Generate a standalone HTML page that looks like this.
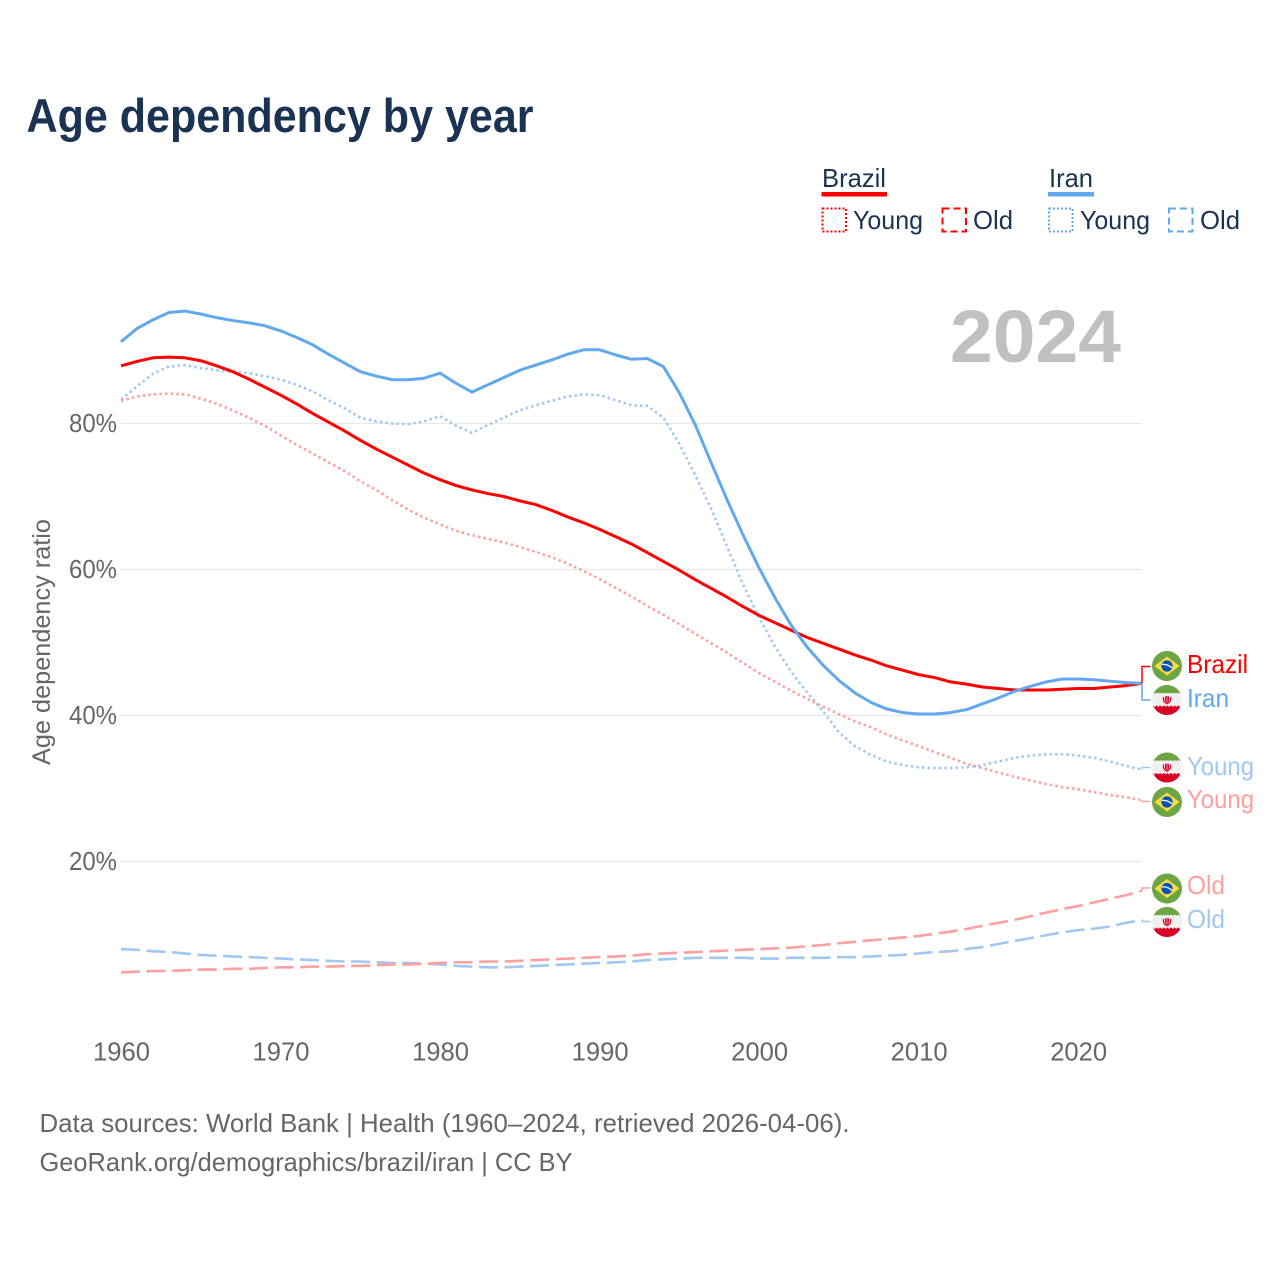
<!DOCTYPE html>
<html lang="en">
<head>
<meta charset="utf-8">
<title>Age dependency by year</title>
<style>
html,body{margin:0;padding:0;background:#fff;width:1280px;height:1280px;overflow:hidden}
svg{display:block}
text{font-family:"Liberation Sans",sans-serif}
</style>
</head>
<body>
<svg id="chart" xmlns="http://www.w3.org/2000/svg" width="1280" height="1280" viewBox="0 0 1280 1280">
<defs>
<clipPath id="flag-clip"><circle cx="0" cy="0" r="15"/></clipPath>
<symbol id="flag-br" overflow="visible">
<circle r="15" fill="#6da544"/>
<polygon points="0,-9.5 12.5,0 0,9.5 -12.5,0" fill="#ffda44"/>
<circle r="5.6" fill="#0052b4"/>
<path d="M-5.2,-1.6 C-1.5,-2 2.5,-0.5 5,2" fill="none" stroke="#f0f0f0" stroke-width="1.4"/>
</symbol>
<symbol id="flag-ir" overflow="visible">
<g clip-path="url(#flag-clip)">
<rect x="-15" y="-15" width="30" height="30" fill="#f0f0f0"/>
<rect x="-15" y="-15" width="30" height="8.4" fill="#6da544"/>
<rect x="-15" y="6.7" width="30" height="8.3" fill="#d80027"/>
<line x1="-15" x2="15" y1="-6.4" y2="-6.4" stroke="#f0f0f0" stroke-width="1.4" stroke-dasharray="2 1.6"/>
<line x1="-15" x2="15" y1="6.4" y2="6.4" stroke="#d80027" stroke-width="1.4" stroke-dasharray="2 1.6"/>
<path d="M-3.6,-3 C-4.2,1.5 -2,3 0,3.2 C2,3 4.2,1.5 3.6,-3 M-1.5,-3.6 V1.5 M1.5,-3.6 V1.5 M0,-4 V4.2" fill="none" stroke="#d80027" stroke-width="1.2"/>
</g>
</symbol>
</defs>

<text x="26.5" y="132" font-size="47" font-weight="700" fill="#1a3353" textLength="507" lengthAdjust="spacingAndGlyphs">Age dependency by year</text>

<g font-size="26" fill="#1a3353">
<text x="822" y="187" textLength="64" lengthAdjust="spacingAndGlyphs">Brazil</text>
<rect x="821.5" y="192" width="65.5" height="4.5" fill="#ff0000"/>
<rect x="822.5" y="208.5" width="23.5" height="23" fill="none" stroke="#ff0000" stroke-width="2" stroke-dasharray="2 2"/>
<text x="853" y="229" textLength="70" lengthAdjust="spacingAndGlyphs">Young</text>
<rect x="942.5" y="208.5" width="23.5" height="23" fill="none" stroke="#ff0000" stroke-width="2" stroke-dasharray="7 4"/>
<text x="973" y="229" textLength="40" lengthAdjust="spacingAndGlyphs">Old</text>
<text x="1049" y="187" textLength="44" lengthAdjust="spacingAndGlyphs">Iran</text>
<rect x="1048" y="192" width="46" height="4.5" fill="#62a8ee"/>
<rect x="1049" y="208.5" width="23.5" height="23" fill="none" stroke="#62a8ee" stroke-width="2" stroke-dasharray="2 2"/>
<text x="1080" y="229" textLength="70" lengthAdjust="spacingAndGlyphs">Young</text>
<rect x="1169" y="208.5" width="23.5" height="23" fill="none" stroke="#62a8ee" stroke-width="2" stroke-dasharray="7 4"/>
<text x="1200" y="229" textLength="40" lengthAdjust="spacingAndGlyphs">Old</text>
</g>

<text x="950" y="362" font-size="74" font-weight="700" fill="#c0c0c0" textLength="171" lengthAdjust="spacingAndGlyphs">2024</text>

<text transform="translate(50,765) rotate(-90)" font-size="25" fill="#666666" textLength="246" lengthAdjust="spacingAndGlyphs">Age dependency ratio</text>

<g id="grid-layer"></g>
<g id="tick-layer"></g>
<g id="series-layer"></g>
<g id="connector-layer"></g>

<g font-size="26">
<use href="#flag-br" x="1167" y="666"/>
<text x="1187" y="673" fill="#ff0000" textLength="61" lengthAdjust="spacingAndGlyphs">Brazil</text>
<use href="#flag-ir" x="1167" y="700"/>
<text x="1187" y="707" fill="#62a8ee" textLength="42" lengthAdjust="spacingAndGlyphs">Iran</text>
<use href="#flag-ir" x="1167" y="767.5"/>
<text x="1187" y="775" fill="#a0c8f2" textLength="67" lengthAdjust="spacingAndGlyphs">Young</text>
<use href="#flag-br" x="1167" y="802"/>
<text x="1187" y="808" fill="#ff9f9f" textLength="67" lengthAdjust="spacingAndGlyphs">Young</text>
<use href="#flag-br" x="1167" y="888.5"/>
<text x="1187" y="894" fill="#ff9f9f" textLength="38" lengthAdjust="spacingAndGlyphs">Old</text>
<use href="#flag-ir" x="1167" y="922"/>
<text x="1187" y="928" fill="#a0c8f2" textLength="38" lengthAdjust="spacingAndGlyphs">Old</text>
</g>

<g font-size="26" fill="#666666">
<text x="39.5" y="1132" textLength="810" lengthAdjust="spacingAndGlyphs">Data sources: World Bank | Health (1960–2024, retrieved 2026-04-06).</text>
<text x="39.5" y="1171" textLength="533" lengthAdjust="spacingAndGlyphs">GeoRank.org/demographics/brazil/iran | CC BY</text>
</g>
</svg>

<script>
const startYear = 1960;
const xTickLabels = [1960, 1970, 1980, 1990, 2000, 2010, 2020];
const yTickLabels = [20, 40, 60, 80];

const brazilOld = [4.8,4.9,5.0,5.0,5.1,5.2,5.2,5.3,5.3,5.4,5.5,5.5,5.6,5.6,5.7,5.7,5.8,5.9,5.9,6.0,6.1,6.2,6.2,6.3,6.3,6.4,6.5,6.6,6.7,6.8,6.9,7.0,7.1,7.3,7.4,7.5,7.6,7.7,7.8,7.9,8.0,8.1,8.2,8.4,8.55,8.8,9.0,9.2,9.4,9.6,9.8,10.1,10.4,10.75,11.2,11.6,12.0,12.5,13.0,13.5,13.9,14.4,14.9,15.4,16.0];
const iranOld = [8.0,7.9,7.7,7.6,7.4,7.2,7.1,7.0,6.9,6.8,6.7,6.6,6.5,6.4,6.3,6.3,6.2,6.1,6.1,6.0,5.9,5.7,5.6,5.5,5.5,5.6,5.7,5.8,5.9,6.0,6.1,6.2,6.3,6.5,6.6,6.7,6.8,6.8,6.8,6.8,6.7,6.7,6.8,6.8,6.8,6.9,6.9,7.0,7.1,7.2,7.4,7.6,7.7,8.0,8.3,8.7,9.1,9.5,9.9,10.3,10.6,10.8,11.1,11.6,12.0];
const iranYoung = [83.3,85.1,86.8,87.8,88.0,87.6,87.3,87.1,86.9,86.5,86.0,85.3,84.4,83.2,82.1,80.8,80.3,80.0,79.9,80.3,81.0,79.7,78.7,79.8,80.8,81.8,82.5,83.1,83.7,84.0,83.9,83.2,82.5,82.4,80.8,77.2,72.9,68.3,63.1,57.9,53.4,49.4,46.0,43.2,40.6,37.7,35.8,34.6,33.7,33.2,32.9,32.8,32.8,32.9,33.2,33.7,34.2,34.5,34.7,34.7,34.5,34.2,33.7,33.1,32.6];
const brazilYoung = [83.1,83.7,84.0,84.1,84.0,83.4,82.7,81.8,80.8,79.7,78.4,77.1,75.9,74.7,73.5,72.1,70.9,69.5,68.2,67.1,66.2,65.3,64.7,64.2,63.7,63.1,62.4,61.7,60.8,59.8,58.7,57.5,56.3,55.0,53.8,52.5,51.2,49.9,48.6,47.2,45.8,44.6,43.4,42.3,41.2,40.2,39.2,38.4,37.4,36.6,35.8,35.0,34.2,33.4,32.8,32.2,31.6,31.1,30.6,30.2,29.9,29.5,29.1,28.8,28.4];
const brazilTotal = [87.9,88.5,89.0,89.1,89.0,88.6,87.9,87.1,86.1,85.0,83.9,82.7,81.4,80.2,79.0,77.7,76.5,75.4,74.3,73.2,72.3,71.5,70.9,70.4,70.0,69.4,68.9,68.1,67.2,66.4,65.5,64.5,63.5,62.3,61.1,59.9,58.6,57.4,56.2,54.9,53.7,52.7,51.7,50.7,49.9,49.1,48.3,47.6,46.8,46.2,45.6,45.2,44.6,44.3,43.9,43.7,43.5,43.5,43.5,43.6,43.7,43.7,43.9,44.1,44.4];
const iranTotal = [91.2,93.0,94.2,95.2,95.4,95.0,94.5,94.1,93.8,93.4,92.7,91.8,90.8,89.5,88.3,87.1,86.5,86.0,86.0,86.2,86.9,85.5,84.3,85.3,86.3,87.3,88.0,88.7,89.5,90.1,90.1,89.4,88.8,88.9,87.8,84.2,79.8,74.6,69.5,64.7,60.2,56.1,52.4,49.4,46.9,44.8,43.1,41.8,40.9,40.4,40.2,40.2,40.4,40.8,41.6,42.4,43.3,44.0,44.6,45.0,45.0,44.9,44.7,44.5,44.4];

const NS = 'http://www.w3.org/2000/svg';
function xScale(year) { return 121 + (year - 1960) * (1142 - 121) / 64; }
function yScale(v) { return 1007.5 - v * 7.3; }
function make(tag, attrs, parent) {
  const el = document.createElementNS(NS, tag);
  for (const k in attrs) el.setAttribute(k, attrs[k]);
  parent.appendChild(el);
  return el;
}

const gridLayer = document.getElementById('grid-layer');
const tickLayer = document.getElementById('tick-layer');
const seriesLayer = document.getElementById('series-layer');
const connectorLayer = document.getElementById('connector-layer');

yTickLabels.forEach(function (t) {
  const line = make('line', {x1: xScale(1960), x2: xScale(2024), y1: yScale(t), y2: yScale(t), stroke: '#e8e8e8', 'stroke-width': 1.2}, gridLayer);
  
  
  const label = make('text', {x: 69, y: yScale(t) + 8.5, 'font-size': 26, fill: '#666666', textLength: 48, lengthAdjust: 'spacingAndGlyphs'}, tickLayer);
  label.textContent = t + '%';
  
  
});

xTickLabels.forEach(function (t) {
  const label = make('text', {x: xScale(t) - 28, y: 1060.5, 'font-size': 26, fill: '#666666', textLength: 57, lengthAdjust: 'spacingAndGlyphs'}, tickLayer);
  label.textContent = String(t);
  
  
});

function drawSeries(values, color, width, dash, name, labelY) {
  const pts = values.map(function (v, i) {
    return xScale(startYear + i).toFixed(2) + ',' + yScale(v).toFixed(2);
  }).join(' ');
  const attrs = {points: pts, fill: 'none', stroke: color, 'stroke-width': width, 'stroke-linejoin': 'round'};
  if (dash) attrs['stroke-dasharray'] = dash;
  const line = make('polyline', attrs, seriesLayer);
  
  
  const endX = xScale(startYear + values.length - 1);
  const endY = yScale(values[values.length - 1]);
  const conn = make('polyline', {points: endX + ',' + endY + ' ' + endX + ',' + labelY + ' ' + (endX + 8.5) + ',' + labelY, fill: 'none', stroke: color, 'stroke-width': 1.5}, connectorLayer);
  
  
}

drawSeries(iranOld, '#a0c8f2', 2.6, '19 6.6', 'iran-old', 921.5);
drawSeries(brazilOld, '#ff9f9f', 2.6, '19 6.6', 'brazil-old', 888);
drawSeries(iranYoung, '#a0c8f2', 2.6, '2.5 3.1', 'iran-young', 767.5);
drawSeries(brazilYoung, '#ff9f9f', 2.6, '2.5 3.1', 'brazil-young', 801.5);
drawSeries(brazilTotal, '#ff0000', 3, '', 'brazil-total', 666.5);
drawSeries(iranTotal, '#62a8ee', 3, '', 'iran-total', 700);
</script>
</body>
</html>
